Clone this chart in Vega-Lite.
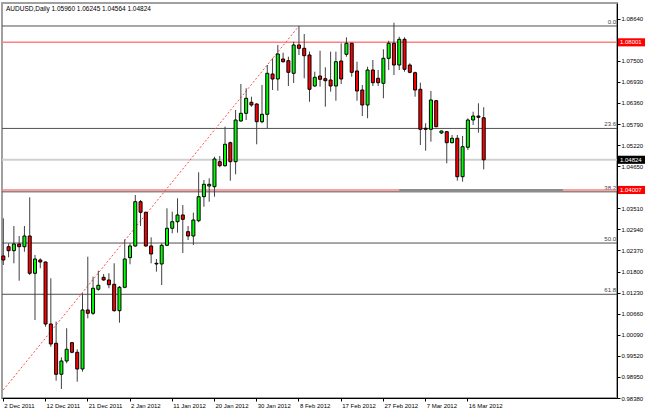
{
  "$schema": "https://vega.github.io/schema/vega-lite/v6.json",
  "autosize": "none",
  "width": 615,
  "height": 395,
  "padding": {"left": 2, "top": 3, "right": 28, "bottom": 14},
  "background": "#ffffff",
  "config": {"view": {"stroke": "#a0a0a0", "strokeWidth": 2}, "font": "Liberation Sans"},
  "title": {"text": "AUDUSD,Daily 1.05960 1.06245 1.04564 1.04824", "anchor": "start", "frame": "group", "offset": -9, "dx": 4, "fontSize": 6.5, "fontWeight": "normal", "font": "Liberation Sans", "color": "#000000"},
  "datasets": {
    "candles": [
      {"date": "2 Dec 2011", "o": 1.02222, "h": 1.03241, "l": 1.01978, "c": 1.02113},
      {"date": "4 Dec 2011", "o": 1.02473, "h": 1.02565, "l": 1.02186, "c": 1.02365},
      {"date": "5 Dec 2011", "o": 1.02365, "h": 1.03033, "l": 1.02024, "c": 1.02546},
      {"date": "6 Dec 2011", "o": 1.02546, "h": 1.02762, "l": 1.01553, "c": 1.02473},
      {"date": "7 Dec 2011", "o": 1.02473, "h": 1.03033, "l": 1.02338, "c": 1.02762},
      {"date": "8 Dec 2011", "o": 1.02762, "h": 1.03809, "l": 1.01708, "c": 1.01754},
      {"date": "9 Dec 2011", "o": 1.01754, "h": 1.02249, "l": 1.0049, "c": 1.0214},
      {"date": "11 Dec 2011", "o": 1.02113, "h": 1.02159, "l": 1.01889, "c": 1.02059},
      {"date": "12 Dec 2011", "o": 1.02059, "h": 1.0207, "l": 1.00309, "c": 1.00382},
      {"date": "13 Dec 2011", "o": 1.00382, "h": 1.01618, "l": 0.99768, "c": 0.99841},
      {"date": "14 Dec 2011", "o": 0.9986, "h": 1.00444, "l": 0.98848, "c": 0.99022},
      {"date": "15 Dec 2011", "o": 0.99022, "h": 0.99481, "l": 0.98624, "c": 0.99381},
      {"date": "16 Dec 2011", "o": 0.99381, "h": 1.00266, "l": 0.99319, "c": 0.99698},
      {"date": "18 Dec 2011", "o": 0.99876, "h": 0.99895, "l": 0.9959, "c": 0.99617},
      {"date": "19 Dec 2011", "o": 0.99617, "h": 0.99698, "l": 0.98821, "c": 0.99165},
      {"date": "20 Dec 2011", "o": 0.99165, "h": 1.01212, "l": 0.99092, "c": 1.00761},
      {"date": "21 Dec 2011", "o": 1.00761, "h": 1.02202, "l": 1.00536, "c": 1.00672},
      {"date": "22 Dec 2011", "o": 1.00672, "h": 1.01662, "l": 1.00626, "c": 1.01348},
      {"date": "23 Dec 2011", "o": 1.01321, "h": 1.01824, "l": 1.01283, "c": 1.01429},
      {"date": "26 Dec 2011", "o": 1.01645, "h": 1.01735, "l": 1.01553, "c": 1.01572},
      {"date": "27 Dec 2011", "o": 1.01572, "h": 1.01754, "l": 1.01348, "c": 1.01445},
      {"date": "28 Dec 2011", "o": 1.01456, "h": 1.02024, "l": 1.00715, "c": 1.00742},
      {"date": "29 Dec 2011", "o": 1.00742, "h": 1.0141, "l": 1.00417, "c": 1.01375},
      {"date": "30 Dec 2011", "o": 1.01375, "h": 1.02673, "l": 1.01348, "c": 1.0214},
      {"date": "2 Jan 2012", "o": 1.02176, "h": 1.02565, "l": 1.01997, "c": 1.02492},
      {"date": "3 Jan 2012", "o": 1.02492, "h": 1.03871, "l": 1.02473, "c": 1.0369},
      {"date": "4 Jan 2012", "o": 1.0369, "h": 1.03736, "l": 1.03033, "c": 1.03404},
      {"date": "5 Jan 2012", "o": 1.03404, "h": 1.0342, "l": 1.02473, "c": 1.02492},
      {"date": "6 Jan 2012", "o": 1.02492, "h": 1.02727, "l": 1.02024, "c": 1.02276},
      {"date": "8 Jan 2012", "o": 1.02024, "h": 1.0214, "l": 1.01797, "c": 1.02005},
      {"date": "9 Jan 2012", "o": 1.02005, "h": 1.02565, "l": 1.01437, "c": 1.02511},
      {"date": "10 Jan 2012", "o": 1.02511, "h": 1.03512, "l": 1.0249, "c": 1.02971},
      {"date": "11 Jan 2012", "o": 1.02971, "h": 1.0342, "l": 1.02836, "c": 1.03149},
      {"date": "12 Jan 2012", "o": 1.03149, "h": 1.03782, "l": 1.02852, "c": 1.03331},
      {"date": "13 Jan 2012", "o": 1.03331, "h": 1.03601, "l": 1.02303, "c": 1.03214},
      {"date": "15 Jan 2012", "o": 1.02879, "h": 1.03033, "l": 1.02654, "c": 1.02762},
      {"date": "16 Jan 2012", "o": 1.02762, "h": 1.03393, "l": 1.02519, "c": 1.03195},
      {"date": "17 Jan 2012", "o": 1.03176, "h": 1.04486, "l": 1.03133, "c": 1.03826},
      {"date": "18 Jan 2012", "o": 1.03826, "h": 1.04277, "l": 1.03555, "c": 1.04161},
      {"date": "19 Jan 2012", "o": 1.04115, "h": 1.04323, "l": 1.0369, "c": 1.04161},
      {"date": "20 Jan 2012", "o": 1.04096, "h": 1.04907, "l": 1.03826, "c": 1.04845},
      {"date": "22 Jan 2012", "o": 1.04772, "h": 1.04926, "l": 1.04621, "c": 1.04664},
      {"date": "23 Jan 2012", "o": 1.04664, "h": 1.05719, "l": 1.04637, "c": 1.05243},
      {"date": "24 Jan 2012", "o": 1.05286, "h": 1.05313, "l": 1.04258, "c": 1.04772},
      {"date": "25 Jan 2012", "o": 1.04772, "h": 1.06171, "l": 1.04431, "c": 1.059},
      {"date": "26 Jan 2012", "o": 1.05873, "h": 1.06874, "l": 1.05854, "c": 1.06081},
      {"date": "27 Jan 2012", "o": 1.06081, "h": 1.06758, "l": 1.059, "c": 1.06487},
      {"date": "29 Jan 2012", "o": 1.06379, "h": 1.0653, "l": 1.0626, "c": 1.06306},
      {"date": "30 Jan 2012", "o": 1.06333, "h": 1.06352, "l": 1.05243, "c": 1.05854},
      {"date": "31 Jan 2012", "o": 1.05854, "h": 1.06847, "l": 1.05811, "c": 1.06054},
      {"date": "1 Feb 2012", "o": 1.06054, "h": 1.07388, "l": 1.05676, "c": 1.07163},
      {"date": "2 Feb 2012", "o": 1.07144, "h": 1.07569, "l": 1.06712, "c": 1.07009},
      {"date": "3 Feb 2012", "o": 1.07009, "h": 1.07929, "l": 1.06693, "c": 1.07685},
      {"date": "5 Feb 2012", "o": 1.0755, "h": 1.07721, "l": 1.0745, "c": 1.07477},
      {"date": "6 Feb 2012", "o": 1.07504, "h": 1.07612, "l": 1.0682, "c": 1.0719},
      {"date": "7 Feb 2012", "o": 1.07163, "h": 1.08018, "l": 1.06901, "c": 1.07929},
      {"date": "8 Feb 2012", "o": 1.07929, "h": 1.08443, "l": 1.07658, "c": 1.0784},
      {"date": "9 Feb 2012", "o": 1.0784, "h": 1.08226, "l": 1.07028, "c": 1.07639},
      {"date": "10 Feb 2012", "o": 1.07658, "h": 1.07748, "l": 1.06395, "c": 1.06731},
      {"date": "12 Feb 2012", "o": 1.0682, "h": 1.07207, "l": 1.06801, "c": 1.07055},
      {"date": "13 Feb 2012", "o": 1.0709, "h": 1.07775, "l": 1.06801, "c": 1.07001},
      {"date": "14 Feb 2012", "o": 1.07017, "h": 1.07326, "l": 1.0626, "c": 1.06963},
      {"date": "15 Feb 2012", "o": 1.06982, "h": 1.07748, "l": 1.06666, "c": 1.0682},
      {"date": "16 Feb 2012", "o": 1.0682, "h": 1.07748, "l": 1.06422, "c": 1.07477},
      {"date": "17 Feb 2012", "o": 1.07496, "h": 1.07975, "l": 1.06874, "c": 1.07009},
      {"date": "19 Feb 2012", "o": 1.07677, "h": 1.08137, "l": 1.07612, "c": 1.07975},
      {"date": "20 Feb 2012", "o": 1.07975, "h": 1.07991, "l": 1.07071, "c": 1.0719},
      {"date": "21 Feb 2012", "o": 1.07226, "h": 1.07477, "l": 1.06422, "c": 1.06685},
      {"date": "22 Feb 2012", "o": 1.06712, "h": 1.06847, "l": 1.06008, "c": 1.06306},
      {"date": "23 Feb 2012", "o": 1.06306, "h": 1.07342, "l": 1.05946, "c": 1.07253},
      {"date": "24 Feb 2012", "o": 1.07253, "h": 1.07523, "l": 1.0682, "c": 1.06909},
      {"date": "26 Feb 2012", "o": 1.07028, "h": 1.07253, "l": 1.0682, "c": 1.06909},
      {"date": "27 Feb 2012", "o": 1.06893, "h": 1.07812, "l": 1.06487, "c": 1.07569},
      {"date": "28 Feb 2012", "o": 1.07569, "h": 1.08045, "l": 1.07253, "c": 1.07975},
      {"date": "29 Feb 2012", "o": 1.07975, "h": 1.08532, "l": 1.07117, "c": 1.07388},
      {"date": "1 Mar 2012", "o": 1.07388, "h": 1.08153, "l": 1.07253, "c": 1.08083},
      {"date": "2 Mar 2012", "o": 1.08083, "h": 1.08137, "l": 1.07207, "c": 1.07272},
      {"date": "4 Mar 2012", "o": 1.07388, "h": 1.07434, "l": 1.07163, "c": 1.0719},
      {"date": "5 Mar 2012", "o": 1.0718, "h": 1.07207, "l": 1.0653, "c": 1.06712},
      {"date": "6 Mar 2012", "o": 1.06731, "h": 1.06909, "l": 1.05224, "c": 1.05649},
      {"date": "7 Mar 2012", "o": 1.05676, "h": 1.05811, "l": 1.0507, "c": 1.05649},
      {"date": "8 Mar 2012", "o": 1.05649, "h": 1.06685, "l": 1.05313, "c": 1.06441},
      {"date": "9 Mar 2012", "o": 1.06422, "h": 1.06441, "l": 1.05703, "c": 1.05719},
      {"date": "11 Mar 2012", "o": 1.05549, "h": 1.05611, "l": 1.05521, "c": 1.05603},
      {"date": "12 Mar 2012", "o": 1.05584, "h": 1.05603, "l": 1.04729, "c": 1.05286},
      {"date": "13 Mar 2012", "o": 1.05286, "h": 1.05494, "l": 1.0527, "c": 1.05405},
      {"date": "14 Mar 2012", "o": 1.05405, "h": 1.05494, "l": 1.04258, "c": 1.04366},
      {"date": "15 Mar 2012", "o": 1.04366, "h": 1.05467, "l": 1.04231, "c": 1.05178},
      {"date": "16 Mar 2012", "o": 1.05162, "h": 1.05946, "l": 1.05089, "c": 1.059},
      {"date": "18 Mar 2012", "o": 1.059, "h": 1.06125, "l": 1.05765, "c": 1.06008},
      {"date": "19 Mar 2012", "o": 1.06008, "h": 1.06352, "l": 1.05557, "c": 1.05973},
      {"date": "20 Mar 2012", "o": 1.0596, "h": 1.06245, "l": 1.04564, "c": 1.04824}
    ],
    "fib": [
      {"label": "0.0", "price": 1.08443},
      {"label": "23.6", "price": 1.05672},
      {"label": "38.2", "price": 1.03957},
      {"label": "50.0", "price": 1.02572},
      {"label": "61.8", "price": 1.01186}
    ],
    "redlines": [
      {"price": 1.08001},
      {"price": 1.04007}
    ],
    "bid": [
      {"price": 1.04824}
    ],
    "tags": [
      {"price": 1.08001, "kind": "line"},
      {"price": 1.04824, "kind": "bid"},
      {"price": 1.04007, "kind": "line"}
    ],
    "diag": [
      {"date": "2 Dec 2011", "price": 0.98597},
      {"date": "8 Feb 2012", "price": 1.08443}
    ],
    "trend": [
      {"start": "1 Mar 2012", "end": "6 Apr 2012", "price": 1.0399}
    ]
  },
  "layer": [
    {
      "data": {"name": "fib"},
      "mark": {"type": "rule", "color": "#505050", "strokeWidth": 1},
      "encoding": {
        "y": {"field": "price", "type": "quantitative", "scale": {"domain": [0.9838, 1.09065], "zero": false, "nice": false},
          "axis": {"orient": "right", "title": null, "grid": false, "tickCount": 40, "values": [0.9838, 0.9895, 0.9952, 1.0009, 1.0066, 1.0123, 1.018, 1.0237, 1.0294, 1.0351, 1.0465, 1.0522, 1.0579, 1.0636, 1.0693, 1.075, 1.0864],
            "format": ".5f", "tickSize": 3, "labelPadding": 1, "labelFontSize": 6, "labelFont": "Liberation Sans", "labelColor": "#000000", "domainColor": "#000000", "tickColor": "#000000", "labelOverlap": false, "labelFlush": false, "labelBaseline": "middle"}}
      }
    },
    {
      "data": {"name": "fib"},
      "mark": {"type": "text", "align": "right", "baseline": "bottom", "dy": -1, "dx": -1, "fontSize": 6, "color": "#404040"},
      "encoding": {
        "x": {"value": "width"},
        "y": {"field": "price", "type": "quantitative"},
        "text": {"field": "label"}
      }
    },
    {
      "data": {"name": "bid"},
      "mark": {"type": "rule", "color": "#d0d0d0", "strokeWidth": 2},
      "encoding": {"y": {"field": "price", "type": "quantitative"}}
    },
    {
      "data": {"name": "redlines"},
      "mark": {"type": "rule", "color": "#ff8080", "strokeWidth": 1.5},
      "encoding": {"y": {"field": "price", "type": "quantitative"}}
    },
    {
      "data": {"name": "diag"},
      "mark": {"type": "line", "color": "#ff4a4a", "strokeWidth": 1, "strokeDash": [2, 2]},
      "encoding": {
        "x": {"field": "date", "type": "ordinal", "sort": null},
        "y": {"field": "price", "type": "quantitative"}
      }
    },
    {
      "data": {"name": "trend"},
      "mark": {"type": "rule", "color": "#8c8c8c", "strokeWidth": 3},
      "encoding": {
        "x": {"field": "start", "type": "ordinal"},
        "x2": {"field": "end"},
        "y": {"field": "price", "type": "quantitative"}
      }
    },
    {
      "data": {"name": "candles"},
      "mark": {"type": "rule", "color": "#404040", "strokeWidth": 1},
      "encoding": {
        "x": {"field": "date", "type": "ordinal", "sort": null,
          "scale": {"type": "band", "paddingInner": 0.5, "paddingOuter": 0, "round": false,
            "domain": ["2 Dec 2011","4 Dec 2011","5 Dec 2011","6 Dec 2011","7 Dec 2011","8 Dec 2011","9 Dec 2011","11 Dec 2011","12 Dec 2011","13 Dec 2011","14 Dec 2011","15 Dec 2011","16 Dec 2011","18 Dec 2011","19 Dec 2011","20 Dec 2011","21 Dec 2011","22 Dec 2011","23 Dec 2011","26 Dec 2011","27 Dec 2011","28 Dec 2011","29 Dec 2011","30 Dec 2011","2 Jan 2012","3 Jan 2012","4 Jan 2012","5 Jan 2012","6 Jan 2012","8 Jan 2012","9 Jan 2012","10 Jan 2012","11 Jan 2012","12 Jan 2012","13 Jan 2012","15 Jan 2012","16 Jan 2012","17 Jan 2012","18 Jan 2012","19 Jan 2012","20 Jan 2012","22 Jan 2012","23 Jan 2012","24 Jan 2012","25 Jan 2012","26 Jan 2012","27 Jan 2012","29 Jan 2012","30 Jan 2012","31 Jan 2012","1 Feb 2012","2 Feb 2012","3 Feb 2012","5 Feb 2012","6 Feb 2012","7 Feb 2012","8 Feb 2012","9 Feb 2012","10 Feb 2012","12 Feb 2012","13 Feb 2012","14 Feb 2012","15 Feb 2012","16 Feb 2012","17 Feb 2012","19 Feb 2012","20 Feb 2012","21 Feb 2012","22 Feb 2012","23 Feb 2012","24 Feb 2012","26 Feb 2012","27 Feb 2012","28 Feb 2012","29 Feb 2012","1 Mar 2012","2 Mar 2012","4 Mar 2012","5 Mar 2012","6 Mar 2012","7 Mar 2012","8 Mar 2012","9 Mar 2012","11 Mar 2012","12 Mar 2012","13 Mar 2012","14 Mar 2012","15 Mar 2012","16 Mar 2012","18 Mar 2012","19 Mar 2012","20 Mar 2012","21 Mar 2012","22 Mar 2012","23 Mar 2012","25 Mar 2012","26 Mar 2012","27 Mar 2012","28 Mar 2012","29 Mar 2012","30 Mar 2012","1 Apr 2012","2 Apr 2012","3 Apr 2012","4 Apr 2012","5 Apr 2012","6 Apr 2012","8 Apr 2012","9 Apr 2012","10 Apr 2012","11 Apr 2012","12 Apr 2012","13 Apr 2012","15 Apr 2012","16 Apr 2012","17 Apr 2012","18 Apr 2012"]},
          "axis": {"title": null, "grid": false, "labelAngle": 0, "labelAlign": "left", "labelBaseline": "top", "labelOffset": 1, "labelPadding": 1, "tickSize": 3, "labelFontSize": 6, "labelFont": "Liberation Sans", "labelColor": "#000000", "domainColor": "#000000", "tickColor": "#000000", "labelOverlap": false, "labelFlush": false,
            "values": ["2 Dec 2011","12 Dec 2011","21 Dec 2011","2 Jan 2012","11 Jan 2012","20 Jan 2012","30 Jan 2012","8 Feb 2012","17 Feb 2012","27 Feb 2012","7 Mar 2012","16 Mar 2012"]}},
        "y": {"field": "l", "type": "quantitative"},
        "y2": {"field": "h"}
      }
    },
    {
      "data": {"name": "candles"},
      "mark": {"type": "bar", "width": 3, "stroke": "#000000", "strokeWidth": 1},
      "encoding": {
        "x": {"field": "date", "type": "ordinal", "sort": null},
        "y": {"field": "o", "type": "quantitative"},
        "y2": {"field": "c"},
        "fill": {"condition": {"test": "datum.c >= datum.o", "value": "#00ff00"}, "value": "#ff0000"}
      }
    },
    {
      "data": {"name": "tags"},
      "mark": {"type": "point", "filled": true, "opacity": 1, "size": 729, "shape": "M0.07,-0.3 L2.2,-0.3 L2.2,0.3 L0.07,0.3 Z"},
      "encoding": {
        "x": {"value": "width"},
        "y": {"field": "price", "type": "quantitative"},
        "fill": {"field": "kind", "type": "nominal", "scale": {"domain": ["line", "bid"], "range": ["#ff0000", "#000000"]}, "legend": null}
      }
    },
    {
      "data": {"name": "tags"},
      "mark": {"type": "text", "align": "left", "baseline": "middle", "dx": 3, "fontSize": 6, "color": "#ffffff"},
      "encoding": {
        "x": {"value": "width"},
        "y": {"field": "price", "type": "quantitative"},
        "text": {"field": "price", "format": ".5f"}
      }
    }
  ]
}
